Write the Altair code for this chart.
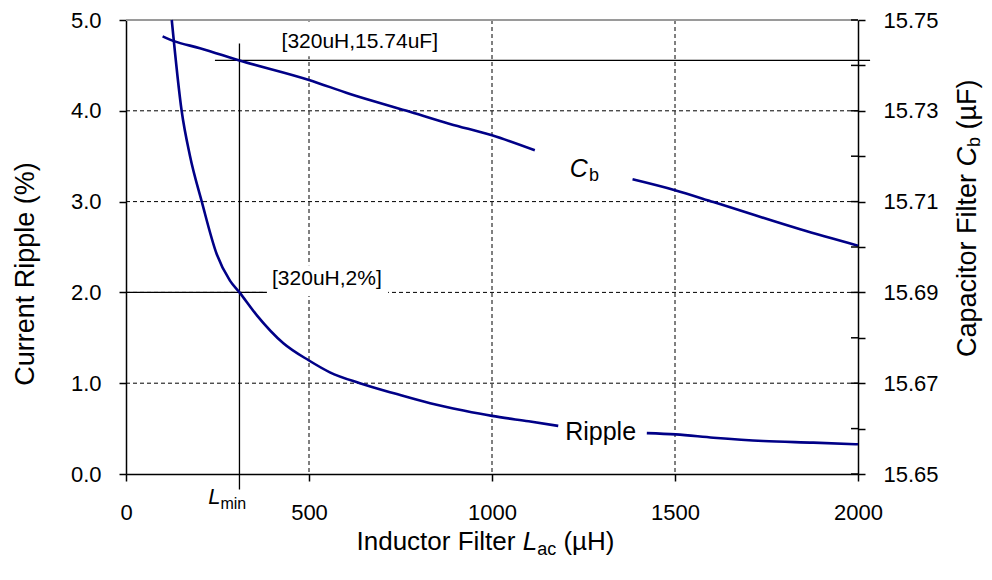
import altair as alt
import pandas as pd

FONT = "Liberation Sans"
NAVY = "#000087"

# ---------------- data ----------------
ripple_L_a = [125, 152, 175, 207, 248, 284, 310, 357, 430, 500, 557, 639, 740, 831, 922, 1000, 1100, 1181]
ripple_a = [5.00, 4.00, 3.50, 3.00, 2.42, 2.13, 2.00, 1.75, 1.44, 1.25, 1.12, 1.00, 0.88, 0.78, 0.70, 0.64, 0.58, 0.53]
ripple_L_b = [1423, 1502, 1605, 1741, 1878, 2000]
ripple_b = [0.45, 0.436, 0.40, 0.363, 0.345, 0.327]

cb_L_a = [100, 129, 202, 310, 500, 612, 767, 885, 1000, 1117]
cb_a = [15.7464, 15.7454, 15.7438, 15.7411, 15.7368, 15.7337, 15.7300, 15.7271, 15.7246, 15.7213]
cb_L_b = [1384, 1500, 1605, 1842, 2000]
cb_b = [15.7149, 15.7125, 15.7099, 15.7039, 15.7003]

x_ticks = [0, 500, 1000, 1500, 2000]
x_grid = [500, 1000, 1500]
left_ticks = [0, 1, 2, 3, 4, 5]
left_grid = [1, 2, 3, 4]
right_ticks = [15.65, 15.66, 15.67, 15.68, 15.69, 15.70, 15.71, 15.72, 15.73, 15.74, 15.75]

# annotation values
L_min = 310
ripple_mark = 2.0
cb_mark = 15.7411
vline_top, vline_bottom = 4.74, -0.17
hline_ripple_L = [0, 384]
hline_cb_L = [243, 2033]
box_label1 = {"L": [421, 836], "v": [4.60, 4.98]}
box_label2 = {"L": [385, 716], "v": [1.96, 2.30]}

W, H = 732, 454

# ---------------- encodings ----------------
X = alt.X("L:Q", scale=alt.Scale(domain=[0, 2000], nice=False, zero=False),
          axis=alt.Axis(orient="bottom", values=x_ticks, format="d", title=None, grid=False,
                        tickSize=7, labelPadding=21, labelFlush=False, labelOverlap=False))
YL = alt.Y("v:Q", scale=alt.Scale(domain=[0, 5], nice=False, zero=False),
           axis=alt.Axis(orient="left", values=left_ticks, format=".1f", title=None, grid=False,
                         tickSize=7, labelPadding=18, labelOverlap=False))
YR = alt.Y("c:Q", scale=alt.Scale(domain=[15.65, 15.75], nice=False, zero=False),
           axis=alt.Axis(orient="right", values=right_ticks, title=None, grid=False,
                         labelExpr="(round(datum.value*100) % 2 == 1) ? format(datum.value, '.2f') : ''",
                         tickSize=7, labelPadding=18, labelOverlap=False))

ripple_df = pd.DataFrame({"L": ripple_L_a + ripple_L_b, "v": ripple_a + ripple_b,
                          "seg": ["a"] * len(ripple_L_a) + ["b"] * len(ripple_L_b)})
cb_df = pd.DataFrame({"L": cb_L_a + cb_L_b, "c": cb_a + cb_b,
                      "seg": ["a"] * len(cb_L_a) + ["b"] * len(cb_L_b)})


def piece(text, px, py, size, italic=False, align="left", angle=0):
    kw = dict(text=text, font=FONT, fontSize=size, align=align, baseline="alphabetic", color="black")
    if italic:
        kw["fontStyle"] = "italic"
    if angle:
        kw["angle"] = angle
    return alt.Chart(pd.DataFrame({"t": [text]})).mark_text(**kw).encode(x=alt.value(px), y=alt.value(py))


# ---------------- left (ripple) layers ----------------
hgrid = alt.Chart(pd.DataFrame({"v": left_grid})).mark_rule(
    color="black", strokeWidth=1, strokeDash=[4, 3]).encode(y=YL, x=alt.value(0), x2=alt.value(W))
vgrid = alt.Chart(pd.DataFrame({"L": x_grid})).mark_rule(
    color="black", strokeWidth=1, strokeDash=[4, 3]).encode(x=X, y=alt.value(0), y2=alt.value(H))
top_border = alt.Chart(pd.DataFrame({"v": [5]})).mark_rule(
    color="#9a9a9a", strokeWidth=2).encode(y=YL, x=alt.value(0), x2=alt.value(W))

boxes = alt.Chart(pd.DataFrame({
    "L": [box_label1["L"][0], box_label2["L"][0]], "L2": [box_label1["L"][1], box_label2["L"][1]],
    "v": [box_label1["v"][0], box_label2["v"][0]], "v2": [box_label1["v"][1], box_label2["v"][1]],
})).mark_rect(color="white").encode(x=X, x2="L2:Q", y=YL, y2="v2:Q")

vline = alt.Chart(pd.DataFrame({"L": [L_min], "v": [vline_bottom], "v2": [vline_top]})).mark_rule(
    color="black", strokeWidth=1.3).encode(x=X, y=YL, y2="v2:Q")
hline_r = alt.Chart(pd.DataFrame({"L": [hline_ripple_L[0]], "L2": [hline_ripple_L[1]], "v": [ripple_mark]})).mark_rule(
    color="black", strokeWidth=1.3).encode(x=X, x2="L2:Q", y=YL)

ripple_line = alt.Chart(ripple_df).mark_line(color=NAVY, strokeWidth=2.6, interpolate="monotone").encode(
    x=X, y=YL, detail="seg:N")

ann_text = alt.Chart(pd.DataFrame({
    "L": [425, 399], "v": [4.69, 2.077], "t": ["[320uH,15.74uF]", "[320uH,2%]"]
})).mark_text(font=FONT, fontSize=21, align="left", baseline="alphabetic", color="black").encode(
    x=X, y=YL, text="t:N")

ripple_lbl = alt.Chart(pd.DataFrame({"L": [1200], "v": [0.37], "t": ["Ripple"]})).mark_text(
    font=FONT, fontSize=25, align="left", baseline="alphabetic", color="black").encode(x=X, y=YL, text="t:N")

lmin_L = alt.Chart(pd.DataFrame({"L": [L_min], "v": [vline_bottom], "t": ["L"]})).mark_text(
    font=FONT, fontSize=22, fontStyle="italic", align="right", baseline="alphabetic", color="black",
    dx=-19, dy=15).encode(x=X, y=YL, text="t:N")
lmin_sub = alt.Chart(pd.DataFrame({"L": [L_min], "v": [vline_bottom], "t": ["min"]})).mark_text(
    font=FONT, fontSize=16, align="left", baseline="alphabetic", color="black",
    dx=-19, dy=20).encode(x=X, y=YL, text="t:N")

# axis titles built from pieces (pixel coordinates relative to plot origin)
ox, oy = 126, 20
xt = [
    piece("Inductor Filter", 356.5 - ox, 550 - oy, 26),
    piece("L", 522.7 - ox, 550 - oy, 26, italic=True),
    piece("ac", 537.2 - ox, 555 - oy, 18),
    piece("(\u00b5H)", 563.4 - ox, 550 - oy, 26),
]
lt = [piece("Current Ripple (%)", 34 - ox, 274 - oy, 27, align="center", angle=270)]
rt = [
    piece("Capacitor Filter", 976 - ox, 357 - oy, 27, angle=270),
    piece("C", 976 - ox, 166.5 - oy, 27, italic=True, angle=270),
    piece("b", 980 - ox, 147 - oy, 18, angle=270),
    piece("(\u00b5F)", 976 - ox, 129.5 - oy, 27, angle=270),
]

left = alt.layer(hgrid, vgrid, top_border, boxes, vline, hline_r, ripple_line, ann_text, ripple_lbl,
                 lmin_L, lmin_sub, *xt, *lt, *rt)

# ---------------- right (Cb) layers ----------------
hline_c = alt.Chart(pd.DataFrame({"L": [hline_cb_L[0]], "L2": [hline_cb_L[1]], "c": [cb_mark]})).mark_rule(
    color="black", strokeWidth=1.3).encode(x=X, x2="L2:Q", y=YR)
cb_line = alt.Chart(cb_df).mark_line(color=NAVY, strokeWidth=2.6, interpolate="monotone").encode(
    x=X, y=YR, detail="seg:N")
inner_ticks = alt.Chart(pd.DataFrame({"c": right_ticks})).mark_rule(
    color="black", strokeWidth=1.5).encode(y=YR, x=alt.value(W - 7), x2=alt.value(W))
cb_C = alt.Chart(pd.DataFrame({"L": [1262], "c": [15.7154], "t": ["C"]})).mark_text(
    font=FONT, fontSize=25, fontStyle="italic", align="right", baseline="alphabetic", color="black").encode(
    x=X, y=YR, text="t:N")
cb_b_lbl = alt.Chart(pd.DataFrame({"L": [1262], "c": [15.7154], "t": ["b"]})).mark_text(
    font=FONT, fontSize=18, align="left", baseline="alphabetic", color="black", dx=1, dy=4).encode(
    x=X, y=YR, text="t:N")

right = alt.layer(hline_c, cb_line, inner_ticks, cb_C, cb_b_lbl)

chart = alt.layer(left, right).resolve_scale(y="independent").properties(
    width=W, height=H, autosize=alt.AutoSizeParams(type="none"),
    padding={"left": 118, "top": 12, "right": 126, "bottom": 90},
).configure_axis(
    labelFont=FONT, labelFontSize=22, labelColor="black", domainColor="black", tickColor="black",
    domainWidth=1.5, tickWidth=1.5,
).configure_view(stroke=None)

chart.save("out.html", embed_options={"renderer": "svg", "actions": False})
